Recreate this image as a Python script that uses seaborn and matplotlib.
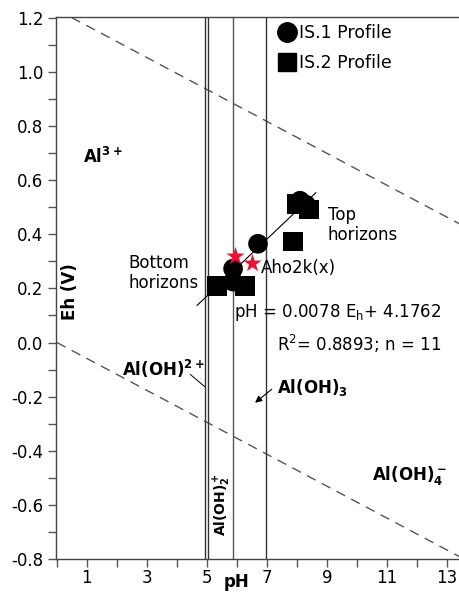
import numpy as np
import pandas as pd
import matplotlib
matplotlib.use("Agg")
import matplotlib.pyplot as plt
from matplotlib.lines import Line2D
from matplotlib.ticker import MultipleLocator
import seaborn as sns

# ---- data ----
is1_ph = [8.10, 8.30, 6.70, 5.87, 5.87]
is1_eh = [0.524, 0.509, 0.365, 0.273, 0.225]
is2_ph = [8.00, 8.40, 7.87, 5.33, 6.27]
is2_eh = [0.513, 0.491, 0.373, 0.210, 0.210]
star_ph = [5.93, 6.50]
star_eh = [0.321, 0.295]
fit_ph = [4.67, 8.63]
fit_eh = [0.137, 0.554]
water_ph = [0.0, 14.0]
water_upper_eh = [1.23, 1.23 - 0.059 * 14]
water_lower_eh = [0.0, -0.059 * 14]
boundary_ph = [4.93, 5.05, 5.87, 6.98]
x_major = [1, 3, 5, 7, 9, 11, 13]
y_major = [-0.8, -0.6, -0.4, -0.2, 0.0, 0.2, 0.4, 0.6, 0.8, 1.0, 1.2]
series_names = ["IS.1 Profile", "IS.2 Profile"]

sns.set_theme(style="white")
plt.rcParams["font.family"] = ["DejaVu Sans"]
plt.rcParams["mathtext.fontset"] = "dejavusans"
plt.rcParams["text.color"] = "black"

df = pd.DataFrame({
    "pH": is1_ph + is2_ph,
    "Eh": is1_eh + is2_eh,
    "Profile": [series_names[0]] * len(is1_ph) + [series_names[1]] * len(is2_ph),
})

fig = plt.figure(figsize=(4.6, 5.92), dpi=100)
ax = fig.add_axes([56 / 460, 1 - 559 / 592, (460 - 56) / 460, (559 - 17) / 592])

# water stability lines
for ys in (water_upper_eh, water_lower_eh):
    sns.lineplot(x=water_ph, y=ys, ax=ax, color="#555555", lw=1.0,
                 linestyle=(0, (7, 5)), legend=False, zorder=1)

# phase boundaries
for i, p in enumerate(boundary_ph):
    ax.axvline(p, color="#333333" if i != 2 else "#555555", lw=1.0, zorder=1)

# regression line
sns.lineplot(x=fit_ph, y=fit_eh, ax=ax, color="black", lw=0.8, legend=False, zorder=2)

# points
sns.scatterplot(data=df, x="pH", y="Eh", style="Profile",
                markers={series_names[0]: "o", series_names[1]: "s"},
                color="black", s=200, linewidth=0, ax=ax, legend=False, zorder=3)
sns.scatterplot(x=star_ph, y=star_eh, marker="*", color="#ee1133", s=190,
                linewidth=0, ax=ax, legend=False, zorder=4)

ax.set_xlim(-0.03, 13.43)
ax.set_ylim(-0.8, 1.203)
ax.set_xticks(x_major)
ax.set_xticklabels([str(v) for v in x_major])
ax.xaxis.set_minor_locator(MultipleLocator(1))
ax.set_yticks(y_major)
ax.set_yticklabels([f"{v:.1f}" for v in y_major])
ax.yaxis.set_minor_locator(MultipleLocator(0.1))
ax.tick_params(which="both", direction="out", length=6, width=1, color="#555555",
               labelsize=12, labelcolor="black", bottom=True, left=True)
ax.tick_params(axis="y", pad=3)
ax.tick_params(axis="x", pad=1)
ax.set_xlabel("")
ax.set_ylabel("")
for side in ("left", "bottom", "top"):
    ax.spines[side].set_color("#444444")
    ax.spines[side].set_linewidth(1.0)
ax.spines["right"].set_visible(False)

# legend
handles = [Line2D([], [], marker="o", color="black", linestyle="none", markersize=14),
           Line2D([], [], marker="s", color="black", linestyle="none", markersize=13)]
ax.legend(handles, series_names, loc="upper left", bbox_to_anchor=(0.515, 1.014),
          frameon=False, fontsize=12.5, handlelength=1.0, handletextpad=0.15,
          labelspacing=0.7, borderpad=0.35, labelcolor="black")

# labels
bold = dict(fontsize=12, fontweight="bold", color="black")
ax.text(0.87, 0.664, r"$\mathbf{Al^{3+}}$", ha="left", va="baseline", **bold)
ax.text(2.17, -0.122, r"$\mathbf{Al(OH)^{2+}}$", ha="left", va="baseline", **bold)
ax.text(7.33, -0.188, r"$\mathbf{Al(OH)_3}$", ha="left", va="baseline", **bold)
ax.text(10.5, -0.509, r"$\mathbf{Al(OH)_4^-}$", ha="left", va="baseline", **bold)
ax.text(5.5, -0.60, r"$\mathbf{Al(OH)_2^+}$", ha="center", va="center", rotation=90,
        fontsize=10, color="black")
ax.text(0.43, 0.188, "Eh (V)", rotation=90, ha="center", va="center", **bold)
fig.text(237 / 460, 1 - 587 / 592, "pH", ha="center", va="baseline", **bold)

ax.annotate("", xy=(5.0, -0.170), xytext=(4.37, -0.111),
            arrowprops=dict(arrowstyle="-", color="black", lw=0.7))
ax.annotate("", xy=(6.53, -0.229), xytext=(7.23, -0.166),
            arrowprops=dict(arrowstyle="-|>", color="black", lw=0.8, mutation_scale=10))

reg = dict(fontsize=12, color="black")
ax.text(9.03, 0.435, "Top\nhorizons", ha="left", va="center", linespacing=1.15, **reg)
ax.text(2.37, 0.258, "Bottom\nhorizons", ha="left", va="center", linespacing=1.15, **reg)
ax.text(6.8, 0.277, "Aho2k(x)", ha="left", va="center", **reg)
ax.text(12.8, 0.111, r"pH = 0.0078 E$_\mathregular{h}$+ 4.1762", ha="right", va="center", **reg)
ax.text(12.8, -0.004, r"R$^\mathregular{2}$= 0.8893; n = 11", ha="right", va="center", **reg)

fig.savefig("out.png", dpi=100)
